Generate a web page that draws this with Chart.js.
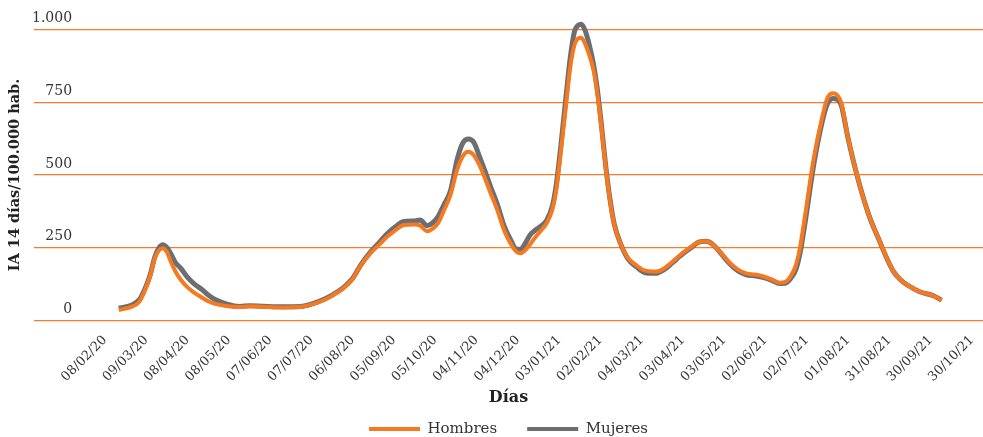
<!DOCTYPE html>
<html><head><meta charset="utf-8">
<script src="https://cdn.jsdelivr.net/npm/chart.js@4.4.0/dist/chart.umd.min.js"></script>
<style>html,body{margin:0;padding:0;background:#fff}</style>
</head><body>
<canvas id="c" width="983" height="437"></canvas>
<script>
// X tick labels (every 30 days starting 08/02/20) and their day offsets
const tickLabels = ["08/02/20","09/03/20","08/04/20","08/05/20","07/06/20","07/07/20","06/08/20","05/09/20","05/10/20","04/11/20","04/12/20","03/01/21","02/02/21","04/03/21","03/04/21","03/05/21","02/06/21","02/07/21","01/08/21","31/08/21","30/09/21","30/10/21"];
const tickDays = [0,30,60,90,120,150,180,210,240,270,300,330,360,390,420,450,480,510,540,570,600,630];
const yTicks = [0,250,500,750,1000];

// Sample days (offset from 08/02/20) and IA 14 días values
const days = [10,19,25,30,33,36,39,42,45,48,51,55,60,65,70,75,80,88,98,105,115,130,142,151,160,166,173,180,186,193,200,205,211,217,225,229,234,238,242,246,251,256,260,264,268,272,276,280,285,290,295,299,302,305,309,313,317,321,325,328,331,335,338,341,344,346,349,352,355,358,361,364,367,370,375,380,386,392,400,406,412,418,425,432,437,442,448,454,460,466,472,478,485,490,494,498,502,505,509,515,521,525,529,532,535,540,547,555,563,568,573,578,583,592,602,608];
const hombres = [36,47,65,115,155,212,240,248,235,200,170,140,114,95,80,66,57,50,46,49,47,45,47,56,72,88,110,143,190,232,264,288,310,328,330,326,307,315,334,375,431,520,565,580,568,535,490,440,380,310,262,236,231,240,262,288,310,335,380,450,570,740,867,945,970,972,950,910,860,770,650,520,410,330,260,215,190,172,168,178,200,225,250,270,272,260,230,198,175,162,158,152,140,130,132,150,190,250,370,557,695,765,781,775,748,626,489,363,271,215,168,140,122,99,85,70];
const mujeres = [42,52,72,120,160,216,248,260,250,228,200,180,148,125,108,88,72,57,48,51,49,47,48,58,75,90,112,145,192,236,272,298,322,340,342,345,326,335,357,395,445,555,610,624,612,565,515,462,400,325,275,245,245,262,295,312,325,345,392,470,590,770,900,990,1015,1018,995,945,880,785,660,525,415,332,260,212,185,165,162,174,197,222,247,270,272,260,228,195,170,157,154,148,137,127,128,143,175,230,345,535,680,745,763,760,740,625,489,363,271,215,168,140,122,99,85,70];

const toPts = arr => days.map((d, i) => ({x: d, y: arr[i]}));
const fmtEs = v => String(v).replace(/\B(?=(\d{3})+(?!\d))/g, '.');

const FONT = "'DejaVu Serif', 'Liberation Serif', serif";
const GRID = '#F47C2C';

const legendShift = {
  id: 'legendShift',
  afterLayout(chart) {
    const l = chart.legend, a = chart.chartArea;
    if (l && a) { l.left = a.left; l.right = a.right; l.width = a.right - a.left; }
  }
};

new Chart(document.getElementById('c'), {
  type: 'line',
  data: {
    datasets: [
      {label: 'Hombres', data: toPts(hombres), borderColor: '#F47920', backgroundColor: '#F47920', borderWidth: 4, pointRadius: 0, tension: 0.4, cubicInterpolationMode: 'monotone', clip: false},
      {label: 'Mujeres', data: toPts(mujeres), borderColor: '#6D6E71', backgroundColor: '#6D6E71', borderWidth: 5, pointRadius: 0, tension: 0.4, cubicInterpolationMode: 'monotone', clip: false}
    ]
  },
  options: {
    responsive: false,
    animation: false,
    devicePixelRatio: 1,
    layout: {padding: {top: 29.5, right: 0, left: 0, bottom: -9.5}},
    plugins: {
      tooltip: {enabled: false},
      legend: {
        position: 'bottom',
        labels: {
          font: {family: FONT, size: 15},
          color: '#333',
          boxWidth: 51, boxHeight: 4, padding: 30,
          generateLabels(chart) {
            return Chart.defaults.plugins.legend.labels.generateLabels(chart).map(it => ({...it, lineWidth: 0}));
          }
        }
      }
    },
    scales: {
      x: {
        type: 'linear',
        min: -51.6, max: 638,
        grid: {display: false},
        border: {display: false},
        afterBuildTicks(scale) { scale.ticks = tickDays.map(v => ({value: v})); },
        afterFit(scale) { scale.height = 71; scale.paddingLeft = 0; scale.paddingRight = 0; },
        ticks: {
          autoSkip: false, minRotation: 45, maxRotation: 45, padding: 4,
          font: {family: FONT, size: 13}, color: '#333',
          callback(value, index) { return tickLabels[index]; }
        },
        title: {display: true, text: 'Días', font: {family: FONT, size: 16, weight: 'bold'}, color: '#222', padding: {top: 4, bottom: -16}}
      },
      y: {
        min: 0, max: 1000,
        afterBuildTicks(scale) { scale.ticks = yTicks.map(v => ({value: v})); },
        afterFit(scale) { scale.width = 34; scale.paddingTop = 0; scale.paddingBottom = 0; },
        grid: {color: GRID, lineWidth: 1.3, drawTicks: false},
        border: {display: false},
        ticks: {
          mirror: true, crossAlign: 'far', padding: -2, labelOffset: -11,
          font: {family: FONT, size: 14}, color: '#333',
          callback(v) { return fmtEs(v); }
        },
        title: {display: true, text: 'IA 14 días/100.000 hab.', font: {family: FONT, size: 14.5, weight: 'bold'}, color: '#222', padding: {top: 7, bottom: 9}}
      }
    }
  },
  plugins: [legendShift]
});
</script>
</body></html>
